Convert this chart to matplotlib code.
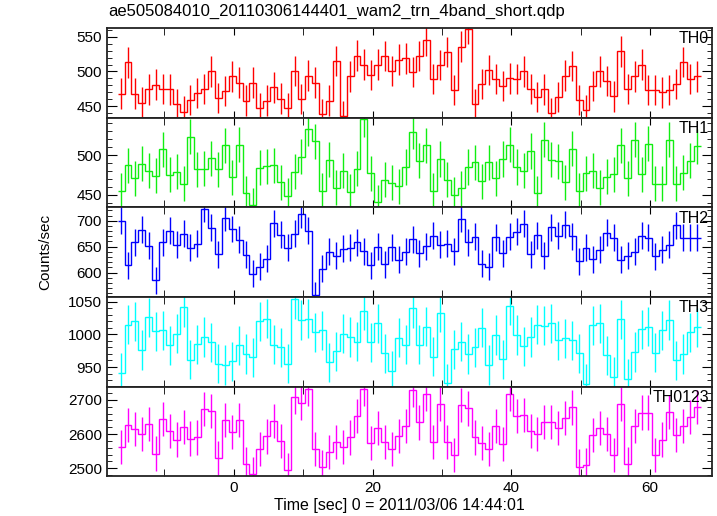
"""
WAM light curve (4 energy bands + sum), QDP-style stacked panels.
"""

import matplotlib
matplotlib.use('Agg')
import matplotlib.pyplot as plt
from matplotlib.ticker import MultipleLocator
import numpy as np

plt.rcParams.update({
    'font.family': ['Liberation Sans', 'DejaVu Sans'],
    'font.size': 11,
    'axes.linewidth': 1.3,
    'axes.edgecolor': '#222222',
})

# time bins (1 s), centres relative to 2011/03/06 14:44:01
time = np.arange(-16.25, 67.0, 1.0)

th0 = [468, 513, 468, 455, 474, 481, 475, 474, 453, 442, 459, 469, 475, 500, 462, 472,
       493, 484, 458, 484, 447, 458, 477, 461, 447, 501, 460, 494, 484, 439, 458, 515,
       436, 493, 523, 510, 495, 510, 522, 501,
       517, 519, 499, 522, 545, 489, 509, 528, 473, 536, 561, 453, 482, 502, 489, 479,
       490, 489, 500, 475, 463, 474, 440, 463, 494, 508, 459, 444, 479, 500, 486, 464,
       529, 475, 493, 510, 473, 473, 470, 473, 482, 514, 489, 493]
th1 = [455, 487, 471, 489, 480, 474, 507, 475, 479, 464, 523, 482, 483, 496, 482, 512,
       472, 513, 452, 437, 484, 486, 487, 466, 449, 479, 498, 533, 517, 455, 494, 459,
       480, 454, 483, 545, 477, 441, 469, 465,
       461, 485, 529, 493, 512, 455, 495, 469, 450, 458, 485, 491, 467, 491, 471, 495,
       513, 485, 480, 505, 452, 519, 494, 492, 466, 508, 455, 477, 480, 459, 473, 476,
       512, 471, 519, 476, 514, 464, 464, 519, 464, 478, 493, 511]
th2 = [700, 614, 658, 683, 652, 585, 658, 681, 654, 675, 648, 656, 723, 686, 635, 706,
       684, 663, 634, 598, 611, 627, 695, 673, 648, 675, 712, 681, 556, 607, 640, 632,
       646, 648, 658, 641, 614, 650, 616, 649,
       625, 640, 664, 637, 651, 671, 654, 656, 641, 704, 658, 669, 617, 611, 668, 637,
       669, 679, 694, 635, 672, 632, 687, 671, 692, 670, 622, 648, 626, 644, 677, 667,
       625, 632, 640, 671, 667, 631, 644, 654, 691, 667, 667, 667]
th3 = [941, 1015, 1020, 976, 1026, 1005, 1006, 983, 1001, 1042, 961, 985, 996, 988, 955, 953,
       959, 983, 970, 965, 1020, 1024, 984, 980, 955, 1054, 1022, 1024, 1003, 1006, 957, 974,
       1001, 996, 989, 1036, 988, 1017, 971, 944,
       995, 984, 1040, 984, 1012, 966, 1033, 925, 977, 989, 970, 980, 1010, 953, 999, 962,
       1044, 999, 982, 996, 1015, 1013, 1017, 991, 994, 991, 971, 924, 1014, 1017, 968, 935,
       1023, 932, 973, 1008, 1012, 972, 1006, 1022, 960, 970, 1003, 1011]
th0123 = [2563, 2627, 2616, 2600, 2630, 2543, 2645, 2610, 2584, 2620, 2587, 2590, 2674, 2667,
          2530, 2641, 2607, 2641, 2512, 2483, 2557, 2593, 2638, 2579, 2495, 2709, 2690, 2733,
          2557, 2504, 2548, 2578, 2561, 2590, 2652, 2731, 2573, 2618, 2578, 2557,
          2595, 2624, 2729, 2634, 2718, 2578, 2688, 2576, 2539, 2685, 2675, 2590, 2574, 2557,
          2624, 2570, 2718, 2652, 2655, 2610, 2600, 2636, 2636, 2617, 2648, 2678, 2505, 2510,
          2598, 2618, 2600, 2539, 2688, 2511, 2624, 2663, 2663, 2539, 2584, 2665, 2597, 2624,
          2650, 2680]

labels = ['TH0', 'TH1', 'TH2', 'TH3', 'TH0123']
errors = [22, 22, 26, 30, 50]
colors = ['#ff0000', '#11ee11', '#0000ff', '#00ffff', '#ff00ff']
ylims = [(433.5, 563), (434.5, 547), (553, 726), (920, 1057.5), (2476.5, 2739)]
ymajor = [50, 50, 50, 50, 100]
yminor = [10, 10, 10, 10, 20]

fig, axes = plt.subplots(5, 1, figsize=(7.17, 5.16), dpi=100, sharex=True,
                         gridspec_kw={'hspace': 0})
fig.subplots_adjust(left=0.149, right=0.993, top=0.946, bottom=0.077)

edges = np.append(time - 0.5, time[-1] + 0.5)
for ax, y, lab, err, c, yl, mj, mn in zip(axes, [th0, th1, th2, th3, th0123], labels,
                                         errors, colors, ylims, ymajor, yminor):
    ax.stairs(y, edges, baseline=None, color=c, linewidth=1.0)
    ax.errorbar(time, y, yerr=err, fmt='none', ecolor=c, elinewidth=1.0, capsize=0)
    ax.set_ylim(*yl)
    ax.yaxis.set_major_locator(MultipleLocator(mj))
    ax.yaxis.set_minor_locator(MultipleLocator(mn))
    ax.xaxis.set_major_locator(MultipleLocator(20))
    ax.xaxis.set_minor_locator(MultipleLocator(10))
    ax.tick_params(which='both', direction='in', top=True, right=True, labelsize=11)
    ax.tick_params(which='major', axis='y', length=7)
    ax.tick_params(which='minor', axis='y', length=3.5)
    ax.tick_params(which='both', axis='x', length=5)
    ax.text(0.995, 0.96, lab, transform=ax.transAxes, ha='right', va='top', fontsize=11.5)

axes[-1].set_xlim(-18.3, 68.9)
fig.text(0.557, 0.006, 'Time [sec] 0 = 2011/03/06 14:44:01', ha='center', va='bottom',
         fontsize=11.5)
fig.text(0.063, 0.512, 'Counts/sec', rotation=90, ha='center', va='center', fontsize=11)
fig.text(0.151, 0.969, 'ae505084010_20110306144401_wam2_trn_4band_short.qdp',
         ha='left', va='baseline', fontsize=12)

plt.savefig('out.png', dpi=100)
plt.close()
